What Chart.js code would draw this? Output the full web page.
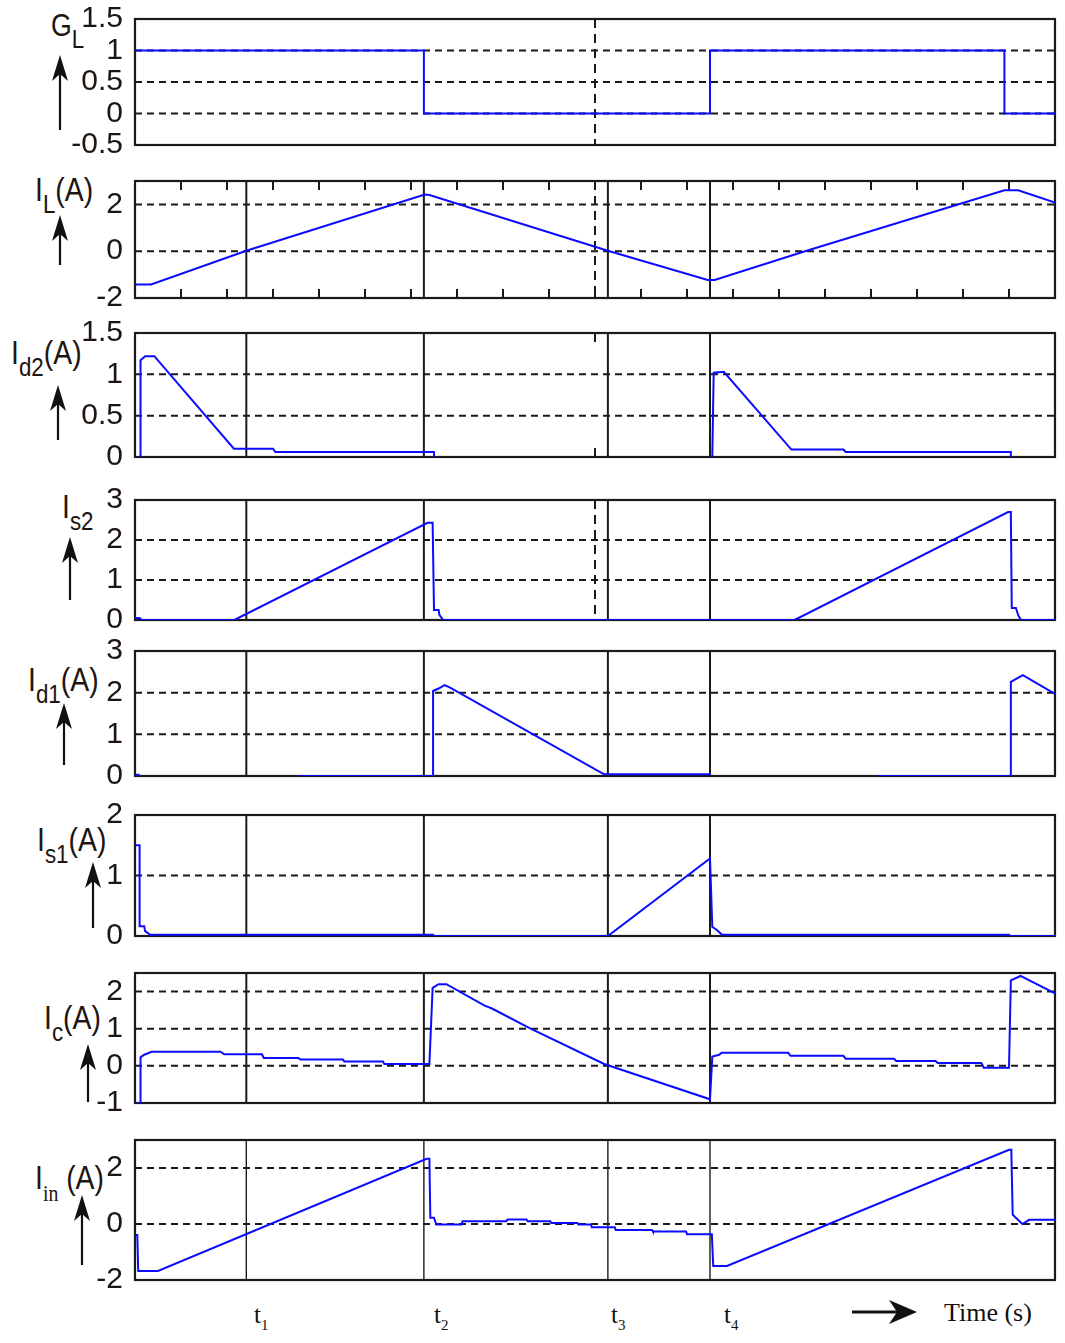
<!DOCTYPE html>
<html>
<head>
<meta charset="utf-8">
<script src="https://cdn.jsdelivr.net/npm/chart.js@4.4.1/dist/chart.umd.min.js"></script>
<style>
html,body{margin:0;padding:0;background:#fff;}
body{width:1065px;height:1343px;position:relative;overflow:hidden;font-family:"Liberation Sans",Arial,sans-serif;color:#1e1510;}
canvas{position:absolute;left:0;}
.ttl{position:absolute;font-size:33px;line-height:1;white-space:nowrap;transform:scaleX(0.86);transform-origin:0 0;}
.ttl .sb{font-size:26px;position:relative;top:12px;}
.ttl .sbs{font-family:"Liberation Serif",serif;font-size:23px;position:relative;top:12px;}
.tl{position:absolute;font-family:"Liberation Serif","Times New Roman",serif;font-size:25px;line-height:1;white-space:nowrap;color:#111;}
.tl .sb{font-size:15px;position:relative;top:7px;}
#deco{position:absolute;left:0;top:0;}
</style>
</head>
<body>
<svg id="deco" width="1065" height="1343"></svg>

<div class="ttl" style="left:51px;top:10px;font-size:31px">G<span class="sb" style="font-size:26px">L</span></div>
<div class="ttl" style="left:35px;top:173px">I<span class="sb">L</span>(A)</div>
<div class="ttl" style="left:11px;top:336px">I<span class="sb">d2</span>(A)</div>
<div class="ttl" style="left:62px;top:490px">I<span class="sb">s2</span></div>
<div class="ttl" style="left:28px;top:663px">I<span class="sb">d1</span>(A)</div>
<div class="ttl" style="left:37px;top:823px">I<span class="sb">s1</span>(A)</div>
<div class="ttl" style="left:44px;top:1001px">I<span class="sb">c</span>(A)</div>
<div class="ttl" style="left:35px;top:1161px">I<span class="sbs">in</span>&nbsp;(A)</div>

<div class="tl" style="left:254px;top:1302px">t<span class="sb">1</span></div>
<div class="tl" style="left:434px;top:1302px">t<span class="sb">2</span></div>
<div class="tl" style="left:611px;top:1302px">t<span class="sb">3</span></div>
<div class="tl" style="left:724px;top:1302px">t<span class="sb">4</span></div>
<div class="tl" style="left:944px;top:1300px;font-size:26px">Time (s)</div>

<script>
// ---------------- data ----------------
const xMin = 0, xMax = 20;
const markerTimes = [2.42, 6.28, 10.28, 12.5];   // t1..t4
const dashDotTimes = [10.0];
const minorTickTimes = [1,2,3,4,5,6,7,8,9,10,11,12,13,14,15,16,17,18,19];

const gLTicks  = [-0.5, 0, 0.5, 1, 1.5];
const iLTicks  = [-2, 0, 2];
const id2Ticks = [0, 0.5, 1, 1.5];
const is2Ticks = [0, 1, 2, 3];
const id1Ticks = [0, 1, 2, 3];
const is1Ticks = [0, 1, 2];
const icTicks  = [-1, 0, 1, 2];
const iinTicks = [-2, 0, 2];

const gLTime  = [0, 6.28, 6.28, 12.5, 12.5, 18.9, 18.9, 20];
const gLValue = [1, 1, 0, 0, 1, 1, 0, 0];

const iLTime  = [0, 0.35, 2.42, 6.3, 6.4, 10.28, 12.45, 12.6, 14.6, 18.9, 19.2, 20];
const iLValue = [-1.42, -1.42, 0.02, 2.42, 2.4, 0.02, -1.23, -1.23, 0.02, 2.6, 2.6, 2.08];

const id2Time  = [0.12, 0.12, 0.22, 0.42, 2.15, 3.0, 3.05, 6.5, 6.5, 6.55, 12.55, 12.58, 12.8, 14.27, 15.4, 15.45, 19.04, 19.04, 19.1];
const id2Value = [0, 1.17, 1.22, 1.22, 0.1, 0.1, 0.06, 0.06, 0, null, 0, 1.02, 1.03, 0.09, 0.09, 0.06, 0.06, 0, null];

const is2Time  = [0, 0.1, 0.15, 2.16, 6.36, 6.47, 6.5, 6.6, 6.62, 6.7, 14.34, 18.98, 19.04, 19.06, 19.15, 19.2, 19.26, 20];
const is2Value = [0.05, 0.05, 0, 0, 2.43, 2.43, 0.25, 0.25, 0.12, 0, 0, 2.7, 2.7, 0.3, 0.3, 0.12, 0, 0];

const id1Time  = [0, 0.1, 0.12, 3.55, 6.48, 6.48, 6.6, 6.73, 6.85, 10.17, 10.22, 12.52, 12.55, 16.15, 19.04, 19.04, 19.3, 20];
const id1Value = [0.03, 0.03, null, 0, 0, 2.04, 2.1, 2.18, 2.12, 0.06, 0.04, 0.04, null, 0, 0, 2.26, 2.42, 1.97];

const is1Time  = [0, 0.1, 0.1, 0.2, 0.22, 0.33, 6.48, 6.48, 10.28, 12.5, 12.55, 12.65, 12.76, 19.0, 19.0, 20];
const is1Value = [1.5, 1.5, 0.16, 0.16, 0.08, 0.02, 0.02, 0, 0, 1.28, 0.15, 0.1, 0.02, 0.02, 0, 0];

const icTime  = [0, 0.12, 0.12, 0.2, 0.36, 1.86, 1.94, 2.76, 2.8, 3.55, 3.6, 4.52, 4.55, 5.39, 5.42, 6.4,
                 6.47, 6.6, 6.77, 7.6, 7.75, 8.6, 10.2, 12.5,
                 12.55, 12.7, 12.75, 14.2, 14.25, 15.4, 15.45, 16.5, 16.55, 17.4, 17.45, 18.4, 18.45, 19.0,
                 19.04, 19.25, 20];
const icValue = [-1, -1, 0.23, 0.3, 0.38, 0.38, 0.31, 0.31, 0.21, 0.21, 0.17, 0.17, 0.12, 0.12, 0.05, 0.05,
                 2.1, 2.2, 2.2, 1.62, 1.55, 1.0, 0.05, -0.9,
                 0.25, 0.3, 0.35, 0.35, 0.27, 0.27, 0.19, 0.19, 0.13, 0.13, 0.08, 0.08, -0.05, -0.05,
                 2.3, 2.42, 1.95];

const iinTime  = [0, 0.05, 0.07, 0.5, 6.34, 6.4, 6.42, 6.5, 6.55, 7.1, 7.12, 8.07, 8.1, 8.51, 8.54, 9.03, 9.05,
                  9.62, 9.64, 9.91, 9.93, 10.43, 10.45, 11.24, 11.26, 11.98, 12.0, 12.54, 12.57, 12.87,
                  19.0, 19.05, 19.08, 19.15, 19.29, 19.44, 20];
const iinValue = [-0.39, -0.39, -1.68, -1.68, 2.33, 2.33, 0.22, 0.22, -0.02, -0.02, 0.1, 0.1, 0.16, 0.16, 0.1, 0.1, 0.04,
                  0.04, -0.02, -0.02, -0.12, -0.12, -0.21, -0.21, -0.27, -0.27, -0.37, -0.37, -1.5, -1.5,
                  2.65, 2.65, 0.34, 0.22, 0, 0.15, 0.15];

// ---------------- layout ----------------
const panels = [
  {top:19,   bottom:145,  min:-0.5, max:1.5, ticks:gLTicks,  grid:[0,0.5,1], solid:[],          dashed:dashDotTimes, minor:[],             time:gLTime,  value:gLValue,  lw:2},
  {top:181,  bottom:298,  min:-2,   max:3,   ticks:iLTicks,  grid:[0,2],     solid:markerTimes, dashed:dashDotTimes, minor:minorTickTimes, time:iLTime,  value:iLValue,  lw:2},
  {top:333,  bottom:457,  min:0,    max:1.5, ticks:id2Ticks, grid:[0.5,1],   solid:markerTimes, dashed:[],           minor:dashDotTimes,   time:id2Time, value:id2Value, lw:2},
  {top:500,  bottom:620,  min:0,    max:3,   ticks:is2Ticks, grid:[1,2],     solid:markerTimes, dashed:dashDotTimes, minor:[],             time:is2Time, value:is2Value, lw:2},
  {top:651,  bottom:776,  min:0,    max:3,   ticks:id1Ticks, grid:[1,2],     solid:markerTimes, dashed:[],           minor:[],             time:id1Time, value:id1Value, lw:2},
  {top:815,  bottom:936,  min:0,    max:2,   ticks:is1Ticks, grid:[1],       solid:markerTimes, dashed:[],           minor:[],             time:is1Time, value:is1Value, lw:2},
  {top:973,  bottom:1103, min:-1,   max:2.5, ticks:icTicks,  grid:[0,1,2],   solid:markerTimes, dashed:[],           minor:[],             time:icTime,  value:icValue,  lw:2},
  {top:1140, bottom:1280, min:-2,   max:3,   ticks:iinTicks, grid:[0,2],     solid:markerTimes, dashed:[],           minor:[],             time:iinTime, value:iinValue, lw:1.4}
];

const arrows = [[60,55,130],[60,215,265],[58,385,440],[70,537,600],[64,703,765],[93,862,928],[88,1044,1102],[82,1195,1265]];

// decorations (arrows)
(function(){
  const svg = document.getElementById('deco');
  const NS = 'http://www.w3.org/2000/svg';
  function add(tag, attrs){ const e=document.createElementNS(NS,tag); for(const k in attrs) e.setAttribute(k,attrs[k]); svg.appendChild(e); }
  arrows.forEach(([x,tip,bot])=>{
    add('line',{x1:x,y1:bot,x2:x,y2:tip+14,stroke:'#111','stroke-width':2.2});
    add('polygon',{points:`${x},${tip} ${x-8},${tip+26} ${x},${tip+19} ${x+8},${tip+26}`,fill:'#111'});
  });
  add('line',{x1:852,y1:1312,x2:900,y2:1312,stroke:'#111','stroke-width':3});
  add('polygon',{points:'917,1312 889,1300 897,1312 889,1324',fill:'#111'});
})();

const framePlugin = {
  id:'frame',
  beforeDatasetsDraw(chart, args, o){
    const {ctx, chartArea:a, scales:{x, y}} = chart;
    ctx.save();
    ctx.strokeStyle = '#1a1a1a';
    ctx.lineWidth = 2; ctx.setLineDash([7,5]);
    o.grid.forEach(v=>{ const py=y.getPixelForValue(v); ctx.beginPath(); ctx.moveTo(a.left,py); ctx.lineTo(a.right,py); ctx.stroke(); });
    ctx.setLineDash([9,6]);
    o.dashed.forEach(t=>{ const px=x.getPixelForValue(t); ctx.beginPath(); ctx.moveTo(px,a.top); ctx.lineTo(px,a.bottom); ctx.stroke(); });
    ctx.setLineDash([]); ctx.lineWidth = o.lw;
    o.solid.forEach(t=>{ const px=x.getPixelForValue(t); ctx.beginPath(); ctx.moveTo(px,a.top); ctx.lineTo(px,a.bottom); ctx.stroke(); });
    ctx.lineWidth = 2;
    o.minor.forEach(t=>{ const px=x.getPixelForValue(t); ctx.beginPath(); ctx.moveTo(px,a.top); ctx.lineTo(px,a.top+9); ctx.moveTo(px,a.bottom); ctx.lineTo(px,a.bottom-9); ctx.stroke(); });
    ctx.lineWidth = 2.2;
    ctx.strokeRect(a.left, a.top, a.right-a.left, a.bottom-a.top);
    ctx.restore();
  }
};

const PAD = 24, PLOT_LEFT = 135, PLOT_RIGHT = 1055;
function makeChart(cv, p, h){
  cv.width = 1065; cv.height = h;
  cv.style.width = '1065px'; cv.style.height = h + 'px';
  const pts = p.time.map((t,i)=>({x:t, y:p.value[i]}));
  return new Chart(cv.getContext('2d'), {
    type:'line',
    data:{datasets:[{data:pts, borderColor:'#0b0bff', borderWidth:2, pointRadius:0, pointHoverRadius:0, tension:0, spanGaps:false, fill:false}]},
    options:{
      responsive:false, animation:false, devicePixelRatio:1,
      layout:{padding:{left:0, right:1065-PLOT_RIGHT, top:PAD, bottom:PAD}},
      plugins:{legend:{display:false}, tooltip:{enabled:false},
               frame:{grid:p.grid, solid:p.solid, dashed:p.dashed, minor:p.minor, lw:p.lw}},
      scales:{
        x:{type:'linear', min:xMin, max:xMax, display:false},
        y:{type:'linear', min:p.min, max:p.max,
           afterBuildTicks:s=>{ s.ticks = p.ticks.map(v=>({value:v})); },
           afterFit:s=>{ s.width = PLOT_LEFT; },
           grid:{display:false, drawTicks:false}, border:{display:false},
           ticks:{font:{family:'Liberation Sans', size:30}, color:'#1e1510', padding:12, autoSkip:false, callback:v=>String(v)}}
      }
    },
    plugins:[framePlugin]
  });
}

panels.forEach(p=>{
  const cv = document.createElement('canvas');
  document.body.appendChild(cv);
  const want = p.bottom - p.top;
  let h = want + 2*PAD;
  let ch = makeChart(cv, p, h);
  const got = ch.chartArea.bottom - ch.chartArea.top;
  if (Math.abs(got - want) > 0.5) { ch.destroy(); h += (want - got); ch = makeChart(cv, p, h); }
  cv.style.top = (p.top - ch.chartArea.top) + 'px';
});
</script>
</body>
</html>
